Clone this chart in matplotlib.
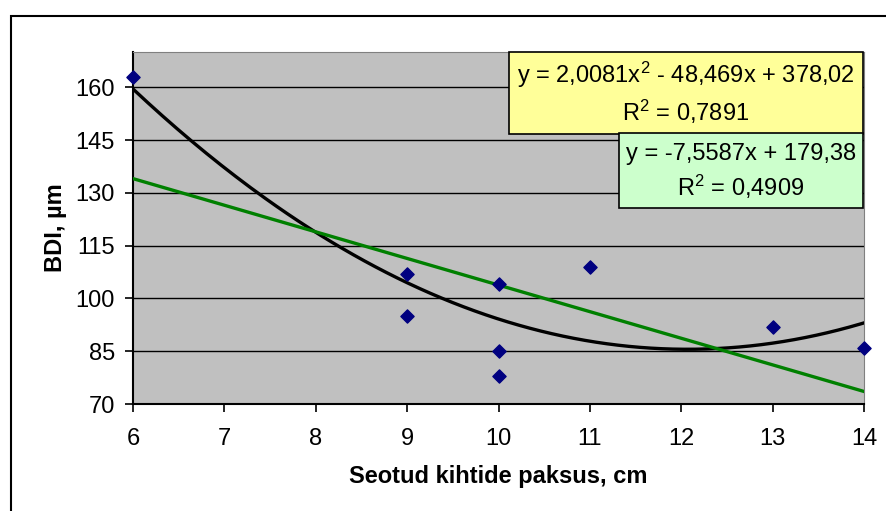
import numpy as np
import matplotlib.pyplot as plt
from matplotlib.patches import Rectangle

plt.rcParams['font.family'] = ['Liberation Sans', 'DejaVu Sans']
plt.rcParams['mathtext.fontset'] = 'custom'
plt.rcParams['mathtext.rm'] = 'Liberation Sans'
plt.rcParams['mathtext.it'] = 'Liberation Sans'

# measured points
x_pts = [6, 9, 9, 10, 10, 10, 11, 13, 14]
y_pts = [163, 107, 95, 104, 85, 78, 109, 92, 86]

# trendline coefficients shown in the boxes
poly_coef = [2.0081, -48.469, 378.02]
lin_coef = [-7.5587, 179.38]

x_ticks = [6, 7, 8, 9, 10, 11, 12, 13, 14]
y_ticks = [70, 85, 100, 115, 130, 145, 160]

W, H = 886, 511
fig = plt.figure(figsize=(8.86, 5.11), dpi=100)
fig.patches.append(Rectangle((11/W, -0.1), 1.1, 1.1 - 16/H,
                             transform=fig.transFigure, fill=False,
                             edgecolor='black', linewidth=1.5))

ax = fig.add_axes([133/W, 1 - 404/H, (864 - 133)/W, (404 - 52)/H])
ax.set_facecolor('#C0C0C0')

xs = np.linspace(6, 14, 200)
ax.plot(xs, np.polyval(poly_coef, xs), color='black', linewidth=2.4, zorder=3)
ax.plot(xs, np.polyval(lin_coef, xs), color='#008000', linewidth=2.4, zorder=3)
ax.scatter(x_pts, y_pts, marker='D', s=45, color='#000080', zorder=4, clip_on=False)

ax.set_xlim(6, 14)
ax.set_ylim(70, 170)
ax.set_xticks(x_ticks)
ax.set_yticks(y_ticks)
ax.yaxis.grid(True, color='black', linewidth=1)
ax.set_axisbelow(True)
ax.tick_params(direction='out', length=6, width=1.2, labelsize=17)
ax.tick_params(axis='x', pad=11)
ax.tick_params(axis='y', pad=7)

for s in ['top', 'right']:
    ax.spines[s].set_color('#808080')
    ax.spines[s].set_linewidth(0.8)
for s in ['left', 'bottom']:
    ax.spines[s].set_linewidth(1.5)

ax.set_xlabel('Seotud kihtide paksus, cm', fontsize=17, fontweight='bold', labelpad=11)
ax.set_ylabel('BDI, µm', fontsize=17, fontweight='bold', labelpad=6)

# trendline label boxes (pixel edges: left, top, right, bottom)
boxes = [((509, 52, 863, 134), '#FFFF99',
          ['y = 2,0081x$^2$ - 48,469x + 378,02', 'R$^2$ = 0,7891']),
         ((619, 133, 863, 208), '#CCFFCC',
          ['y = -7,5587x + 179,38', 'R$^2$ = 0,4909'])]
for (l, t, r, b), fc, lines in boxes:
    fig.patches.append(Rectangle((l/W, 1 - b/H), (r - l)/W, (b - t)/H,
                                 transform=fig.transFigure, facecolor=fc,
                                 edgecolor='black', linewidth=1.2, zorder=5))
    h = (b - t) / 2
    for i, s in enumerate(lines):
        yc = t + h * (0.5 + i) + (2 if i == 0 else -2)
        fig.text((l + r) / 2 / W, 1 - yc / H, s, ha='center', va='center',
                 fontsize=17, zorder=6)

fig.savefig('out.png', dpi=100)
